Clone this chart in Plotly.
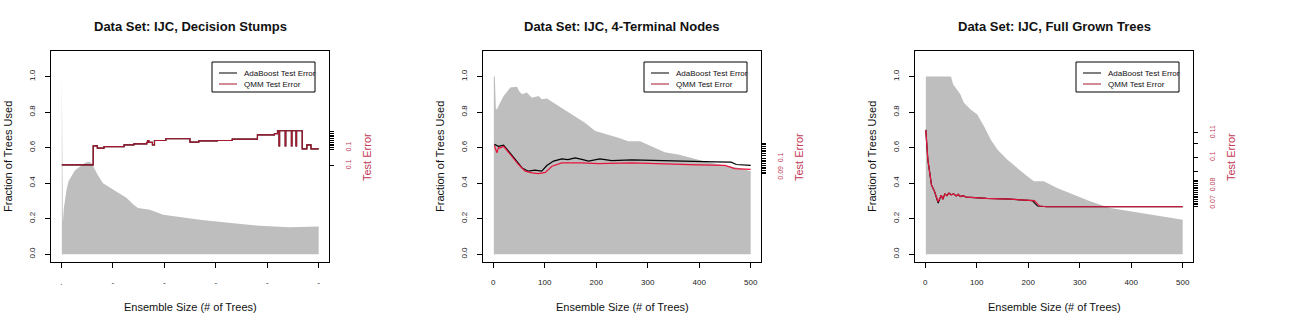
import plotly.graph_objects as go

W, H = 1296, 327

titles = ["Data Set: IJC, Decision Stumps",
          "Data Set: IJC, 4-Terminal Nodes",
          "Data Set: IJC, Full Grown Trees"]

tree_ticks = [0, 100, 200, 300, 400, 500]
frac_ticks = [0.0, 0.2, 0.4, 0.6, 0.8, 1.0]

# fraction of trees used (grey area), per panel
frac_x_1 = [1, 2, 3, 5, 8, 10, 14, 20, 26, 33, 40, 46, 52, 58, 62, 70, 81, 101, 115,
            127, 140, 149, 172, 198, 230, 269, 320, 385, 443, 500]
frac_y_1 = [1.0, 0.3, 0.18, 0.26, 0.32, 0.36, 0.41, 0.44, 0.47, 0.486, 0.5, 0.514, 0.52,
            0.515, 0.495, 0.45, 0.40, 0.363, 0.34, 0.316, 0.28, 0.26, 0.25, 0.222, 0.209,
            0.194, 0.179, 0.16, 0.151, 0.156]

frac_x_2 = [1, 3, 5, 7, 10, 20, 33, 46, 50, 56, 65, 75, 88, 94, 104, 127, 152, 178, 198,
            223, 243, 262, 285, 307, 333, 359, 391, 417, 450, 475, 500]
frac_y_2 = [1.0, 1.0, 0.82, 0.815, 0.834, 0.89, 0.938, 0.943, 0.919, 0.90, 0.91, 0.881,
            0.89, 0.872, 0.877, 0.834, 0.787, 0.74, 0.693, 0.674, 0.655, 0.636, 0.636,
            0.608, 0.574, 0.561, 0.537, 0.518, 0.499, 0.486, 0.467]

frac_x_3 = [1, 50, 54, 62, 68, 75, 88, 101, 114, 127, 140, 159, 178, 198, 211, 230, 256,
            288, 320, 359, 398, 437, 475, 500]
frac_y_3 = [1.0, 1.0, 0.957, 0.928, 0.90, 0.853, 0.815, 0.787, 0.721, 0.646, 0.589, 0.533,
            0.486, 0.439, 0.41, 0.41, 0.373, 0.335, 0.298, 0.26, 0.241, 0.222, 0.203, 0.194]

# test error curves
ada_x_1 = [1, 61, 62, 70, 83, 122, 141, 166, 168, 170, 177, 181, 203, 245, 250, 267, 303,
           332, 375, 381, 414, 420, 422, 423, 424, 434, 435, 436, 446, 447, 448, 455, 456,
           457, 467, 468, 476, 477, 482, 485, 500]
ada_y_1 = [0.1003, 0.1003, 0.1110, 0.1097, 0.1106, 0.1116, 0.1121, 0.1129, 0.1140, 0.1129,
           0.1116, 0.1140, 0.1150, 0.1150, 0.1131, 0.1138, 0.1140, 0.1148, 0.1148, 0.1172,
           0.1178, 0.1195, 0.1195, 0.1110, 0.1195, 0.1195, 0.1110, 0.1195, 0.1195, 0.1110,
           0.1195, 0.1195, 0.1110, 0.1195, 0.1195, 0.1093, 0.1093, 0.1116, 0.1116, 0.1093,
           0.1093]
qmm_x_1 = list(ada_x_1)
qmm_y_1 = list(ada_y_1)

ada_x_2 = [2, 10, 20, 30, 43, 56, 68, 81, 94, 104, 117, 133, 145, 159, 172, 185, 207, 230,
           269, 333, 398, 430, 462, 472, 500]
ada_y_2 = [0.1073, 0.1062, 0.1069, 0.1033, 0.0984, 0.0935, 0.0916, 0.0922, 0.0916, 0.0949,
           0.0975, 0.0988, 0.0984, 0.0994, 0.0985, 0.0975, 0.0988, 0.0978, 0.0982, 0.0976,
           0.0973, 0.0971, 0.0969, 0.0955, 0.0950]
qmm_x_2 = [2, 7, 10, 14, 20, 36, 49, 62, 75, 88, 101, 114, 133, 172, 204, 269, 333, 398,
           450, 469, 500]
qmm_y_2 = [0.1066, 0.1024, 0.1054, 0.1053, 0.1062, 0.1004, 0.0955, 0.0916, 0.0906, 0.0902,
           0.0909, 0.0945, 0.0965, 0.0965, 0.0960, 0.0965, 0.0957, 0.0953, 0.0950, 0.0931,
           0.0927]

ada_x_3 = [1, 5, 12, 18, 25, 28, 31, 34, 38, 42, 46, 50, 55, 60, 64, 68, 73, 80, 90, 100,
           119, 164, 208, 218, 236, 500]
ada_y_3 = [0.1116, 0.0945, 0.0803, 0.0765, 0.0700, 0.0728, 0.0745, 0.0722, 0.0752, 0.0742,
           0.0757, 0.0747, 0.0752, 0.0740, 0.0750, 0.0737, 0.0742, 0.0734, 0.0732, 0.0730,
           0.0727, 0.0722, 0.0714, 0.0683, 0.0679, 0.0679]
qmm_x_3 = [1, 5, 12, 18, 25, 28, 31, 34, 38, 42, 46, 50, 55, 60, 64, 68, 73, 80, 90, 100,
           119, 164, 212, 222, 236, 500]
qmm_y_3 = [0.1116, 0.0945, 0.0803, 0.0765, 0.0707, 0.0730, 0.0745, 0.0722, 0.0752, 0.0742,
           0.0757, 0.0747, 0.0752, 0.0740, 0.0750, 0.0737, 0.0742, 0.0734, 0.0732, 0.0730,
           0.0727, 0.0722, 0.0714, 0.0683, 0.0679, 0.0679]

# right axis (test error) scales and ticks
err_range = [[0.0456, 0.1644], [0.0384, 0.1620], [0.0365, 0.1564]]
err_ticks_1 = [0.100, 0.109, 0.110, 0.111, 0.112, 0.113, 0.114, 0.115, 0.116, 0.117, 0.118, 0.119]
err_text_1 = ["0.1", "", "0.1", "", "", "", "", "", "", "", "", ""]
err_ticks_2 = [0.090, 0.091, 0.092, 0.093, 0.094, 0.095, 0.096, 0.097, 0.098, 0.099,
               0.101, 0.102, 0.103, 0.104, 0.105, 0.106, 0.107, 0.108]
err_text_2 = ["0.09", "", "", "", "", "", "", "", "", "0.1", "", "", "", "", "", "", "", ""]
err_ticks_3 = [0.110, 0.104, 0.096, 0.088, 0.083, 0.082, 0.081, 0.080, 0.079, 0.078, 0.077,
               0.076, 0.075, 0.074, 0.073, 0.072, 0.071, 0.070, 0.069, 0.068]
err_text_3 = ["0.11", "", "0.1", "", "", "", "", "0.08", "", "", "", "", "", "", "", "",
              "", "0.07", "", ""]

panels = [
    (frac_x_1, frac_y_1, ada_x_1, ada_y_1, qmm_x_1, qmm_y_1, err_ticks_1, err_text_1, "hv"),
    (frac_x_2, frac_y_2, ada_x_2, ada_y_2, qmm_x_2, qmm_y_2, err_ticks_2, err_text_2, "linear"),
    (frac_x_3, frac_y_3, ada_x_3, ada_y_3, qmm_x_3, qmm_y_3, err_ticks_3, err_text_3, "linear"),
]
qmm_colors = ["#A5182F", "#E8143C", "#E8143C"]

FONT = "Liberation Sans, Arial, sans-serif"
GREY = "#BEBEBE"
ERR_COL = "#C23A55"

fig = go.Figure()
layout = dict(width=W, height=H, margin=dict(l=0, r=0, t=0, b=0),
              plot_bgcolor="white", paper_bgcolor="white", showlegend=False,
              font=dict(family=FONT, color="black"))
annotations = []
shapes = []


def note(text, x, y, size, color="#111", angle=0, xanchor="center"):
    return dict(text=text, x=x / W, y=1 - y / H, xref="paper", yref="paper",
                showarrow=False, xanchor=xanchor, yanchor="middle", textangle=angle,
                font=dict(size=size, color=color))


for i, (fx, fy, ax_, ay, qx, qy, eticks, etext, shape) in enumerate(panels):
    n = i + 1
    ox = 432 * i
    xa = "x" if n == 1 else "x%d" % n
    ya = "y" if n == 1 else "y%d" % n
    ye = "y%d" % (n + 3)

    fig.add_trace(go.Scatter(x=fx, y=fy, xaxis=xa, yaxis=ya, mode="lines",
                             line=dict(width=0, color=GREY), fill="tozeroy",
                             fillcolor=GREY, hoverinfo="skip"))
    fig.add_trace(go.Scatter(x=ax_, y=ay, xaxis=xa, yaxis=ye, mode="lines",
                             line=dict(color="black", width=1.2, shape=shape),
                             name="AdaBoost Test Error"))
    fig.add_trace(go.Scatter(x=qx, y=qy, xaxis=xa, yaxis=ye, mode="lines",
                             line=dict(color=qmm_colors[i], width=1.2, shape=shape),
                             name="QMM Test Error"))

    xd = [(51 + ox) / W, (329 + ox) / W]
    yd = [1 - 262 / H, 1 - 51 / H]
    xkey = "xaxis" if n == 1 else "xaxis%d" % n
    ykey = "yaxis" if n == 1 else "yaxis%d" % n
    layout[xkey] = dict(domain=xd, anchor=ya, range=[-20, 520], showgrid=False,
                        zeroline=False, showline=True, mirror=True, linecolor="black",
                        linewidth=1, ticks="outside", ticklen=5, tickcolor="black",
                        tickvals=tree_ticks,
                        ticktext=[".", "-", "-", "-", "-", "-"] if n == 1 else [str(t) for t in tree_ticks],
                        tickfont=dict(size=8, color="#222"), ticklabelstandoff=7)
    layout[ykey] = dict(domain=yd, anchor=xa, range=[-0.044, 1.144], showgrid=False,
                        zeroline=False, showline=True, mirror=True, linecolor="black",
                        linewidth=1, ticks="outside", ticklen=5, tickcolor="black",
                        tickvals=frac_ticks, ticktext=["%.1f" % v for v in frac_ticks],
                        tickangle=-90, tickfont=dict(size=8, color="#222"),
                        ticklabelstandoff=7)
    layout["yaxis%d" % (n + 3)] = dict(overlaying=ya, anchor=xa, side="right",
                                       range=err_range[i], showgrid=False, zeroline=False,
                                       showline=False, ticks="outside", ticklen=4,
                                       tickcolor="black", tickvals=eticks, ticktext=etext,
                                       tickangle=-90, tickfont=dict(size=7, color=ERR_COL),
                                       ticklabelstandoff=9)

    annotations += [
        note("<b>%s</b>" % titles[i], 190 + ox, 27, 13),
        note("Ensemble Size (# of Trees)", 190 + ox, 307, 11),
        note("Fraction of Trees Used", 8 + ox, 157, 11, angle=-90),
        note("Test Error", 367 + ox, 157, 11, color=ERR_COL, angle=-90),
        note("AdaBoost Test Error", 242 + ox, 73, 8, xanchor="left"),
        note("QMM Test Error", 242 + ox, 84, 8, xanchor="left"),
    ]
    shapes += [
        dict(type="rect", xref="paper", yref="paper", x0=(212 + ox) / W, x1=(315 + ox) / W,
             y0=1 - 92 / H, y1=1 - 62 / H, line=dict(color="black", width=1),
             fillcolor="white"),
        dict(type="line", xref="paper", yref="paper", x0=(219 + ox) / W, x1=(237 + ox) / W,
             y0=1 - 73 / H, y1=1 - 73 / H, line=dict(color="black", width=1)),
        dict(type="line", xref="paper", yref="paper", x0=(219 + ox) / W, x1=(237 + ox) / W,
             y0=1 - 84 / H, y1=1 - 84 / H, line=dict(color="#A5182F", width=1)),
    ]

layout["annotations"] = annotations
layout["shapes"] = shapes
fig.update_layout(**layout)
fig.write_html("out.html", config={"displayModeBar": False},
               post_script="document.body.style.margin='0px';")
